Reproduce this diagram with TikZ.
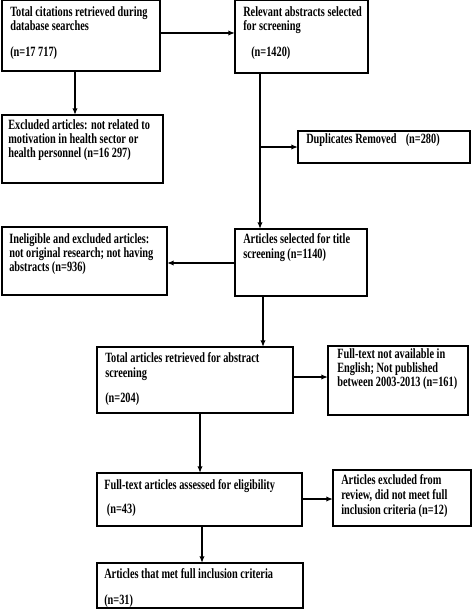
\documentclass[tikz,border=0pt]{standalone}
\usepackage{fontspec}
\newfontfamily\tf[FakeStretch=0.73]{Liberation Serif}
\usetikzlibrary{arrows.meta}
\begin{document}
\begin{tikzpicture}[x=0.75pt,y=-0.75pt,
  box/.style={draw,line width=1.1pt,inner sep=0,outer sep=0,anchor=north west},
  txt/.style={anchor=north west,inner sep=0,align=left,font=\tf\bfseries\fontsize{10.6}{10.2}\selectfont,yshift=7.3pt},
  arr/.style={line width=1pt,-{Latex[length=5pt,width=4pt]}},
  ln/.style={line width=1pt}]
\useasboundingbox (0,0) rectangle (472,610);
% boxes
\node[box,minimum width=158*0.75pt,minimum height=71*0.75pt] (b1) at (2,0) {};
\node[box,minimum width=133*0.75pt,minimum height=73*0.75pt] (b2) at (235,0) {};
\node[box,minimum width=161*0.75pt,minimum height=68*0.75pt] (b3) at (2,115) {};
\node[box,minimum width=172*0.75pt,minimum height=32*0.75pt] (dup) at (298,131) {};
\node[box,minimum width=132*0.75pt,minimum height=67*0.75pt] (b4) at (235,229) {};
\node[box,minimum width=165*0.75pt,minimum height=68*0.75pt] (b5) at (2,227) {};
\node[box,minimum width=196*0.75pt,minimum height=66*0.75pt] (b6) at (97,347) {};
\node[box,minimum width=140*0.75pt,minimum height=69*0.75pt] (b7) at (328,346) {};
\node[box,minimum width=205*0.75pt,minimum height=53*0.75pt] (b8) at (97,473) {};
\node[box,minimum width=138*0.75pt,minimum height=56*0.75pt] (b9) at (333,470) {};
\node[box,minimum width=206*0.75pt,minimum height=45*0.75pt] (b10) at (97,563) {};
% texts
\node[txt] (t1) at (10,16.5) {\rule{0pt}{7.3pt}Total citations retrieved during\\database searches\\[9.5pt](n=17 717)};
\node[txt] (t2) at (243,16.5) {\rule{0pt}{7.3pt}Relevant abstracts selected\\for screening\\[9.5pt]\hspace{6pt}(n=1420)};
\node[txt] (t3) at (8,129.5) {\rule{0pt}{7.3pt}Excluded articles: not related to\\[0.3pt]motivation in health sector or\\[0.3pt]health personnel (n=16 297)};
\node[txt] (t4) at (306,143.5) {\rule{0pt}{7.3pt}Duplicates Removed\hspace{5pt} (n=280)};
\node[txt] (t5) at (243,243.5) {\rule{0pt}{7.3pt}Articles selected for title\\[1pt]screening (n=1140)};
\node[txt] (t6) at (9,243.5) {\rule{0pt}{7.3pt}Ineligible and excluded articles:\\not original research; not having\\abstracts (n=936)};
\node[txt] (t7) at (105,362.5) {\rule{0pt}{7.3pt}Total articles retrieved for abstract\\[0.5pt]screening\\[8.5pt](n=204)};
\node[txt] (t8) at (337,358.5) {\rule{0pt}{7.3pt}Full-text not available in\\English; Not published\\between 2003-2013 (n=161)};
\node[txt] (t9) at (104,489.5) {\rule{0pt}{7.3pt}Full-text articles assessed for eligibility\\[7.3pt]\hspace{2pt}(n=43)};
\node[txt] (t10) at (341,484.5) {\rule{0pt}{7.3pt}Articles excluded from\\[0.7pt]review, did not meet full\\[0.7pt]inclusion criteria (n=12)};
\node[txt] (t11) at (104,578.5) {\rule{0pt}{7.3pt}Articles that met full inclusion criteria\\[8.8pt](n=31)};
% helper coordinates
\coordinate (y33) at (0,33);
\coordinate (x75) at (75,0);
\coordinate (x260) at (260,0);
\coordinate (y263) at (0,263);
\coordinate (x263) at (263,0);
\coordinate (y377) at (0,377);
\coordinate (x200) at (200,0);
\coordinate (y499) at (0,499);
\coordinate (x202) at (202,0);
% connectors
\draw[arr] (b1.east |- y33) -- (b2.west |- y33);
\draw[arr] (b1.south -| x75) -- (b3.north -| x75);
\draw[arr] (b2.south -| x260) -- (b4.north -| x260);
\draw[arr] (dup.west -| x260) -- (dup.west);
\draw[arr] (b4.west |- y263) -- (b5.east |- y263);
\draw[arr] (b4.south -| x263) -- (b6.north -| x263);
\draw[arr] (b6.east |- y377) -- (b7.west |- y377);
\draw[arr] (b6.south -| x200) -- (b8.north -| x200);
\draw[arr] (b8.east |- y499) -- (b9.west |- y499);
\draw[arr] (b8.south -| x202) -- (b10.north -| x202);
\end{tikzpicture}
\end{document}
